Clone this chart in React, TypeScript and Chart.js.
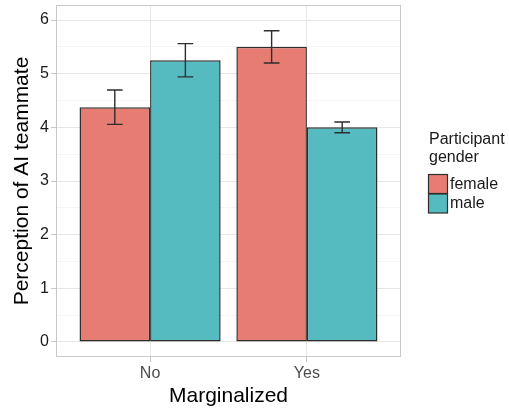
import React, { useEffect, useRef } from "react";
import { Chart, registerables } from "chart.js";

Chart.register(...registerables);

// Groups on the x axis and the two participant series
const categories = ["No", "Yes"];
const seriesNames = ["female", "male"];
const femaleMeans = [4.375, 5.5];
const femaleErrors = [0.32, 0.3];
const maleMeans = [5.25, 4.0];
const maleErrors = [0.31, 0.1];

// Axis ticks
const yMajorTicks = [0, 1, 2, 3, 4, 5, 6];
const yMinorTicks = [0.5, 1.5, 2.5, 3.5, 4.5, 5.5];

const FONT = "'Liberation Sans', Arial, Helvetica, sans-serif";
const FEMALE_FILL = "#E77C72";
const MALE_FILL = "#56BBC1";
const OUTLINE = "#2e2e2e";
const GRID_MAJOR = "#e6e6e6";
const GRID_MINOR = "#f3f3f3";
const PANEL_BORDER = "#c9c9c9";

const seriesMeans = [femaleMeans, maleMeans];
const seriesErrors = [femaleErrors, maleErrors];
const seriesFills = [FEMALE_FILL, MALE_FILL];

// Outline around the plotting panel
const panelBorder = {
  id: "panelBorder",
  afterDatasetsDraw(chart: any) {
    const { ctx, chartArea } = chart;
    ctx.save();
    ctx.strokeStyle = PANEL_BORDER;
    ctx.lineWidth = 1;
    ctx.strokeRect(
      chartArea.left + 0.5,
      chartArea.top + 0.5,
      chartArea.right - chartArea.left - 1,
      chartArea.bottom - chartArea.top - 1
    );
    ctx.restore();
  },
};

// Mean ± error whiskers on top of each bar
const errorBars = {
  id: "errorBars",
  afterDatasetsDraw(chart: any) {
    const { ctx, scales } = chart;
    const xs = scales.x;
    const ys = scales.y;
    const capHalf = Math.abs(xs.getPixelForValue(0.05) - xs.getPixelForValue(0));
    ctx.save();
    ctx.strokeStyle = OUTLINE;
    ctx.lineWidth = 1.4;
    chart.data.datasets.forEach((ds: any, di: number) => {
      const meta = chart.getDatasetMeta(di);
      meta.data.forEach((bar: any, i: number) => {
        const m = seriesMeans[di][i];
        const e = seriesErrors[di][i];
        const x = bar.x;
        const yHi = ys.getPixelForValue(m + e);
        const yLo = ys.getPixelForValue(m - e);
        ctx.beginPath();
        ctx.moveTo(x, yHi);
        ctx.lineTo(x, yLo);
        ctx.moveTo(x - capHalf, yHi);
        ctx.lineTo(x + capHalf, yHi);
        ctx.moveTo(x - capHalf, yLo);
        ctx.lineTo(x + capHalf, yLo);
        ctx.stroke();
      });
    });
    ctx.restore();
  },
};

// Legend to the right of the panel
const sideLegend = {
  id: "sideLegend",
  afterDraw(chart: any) {
    const { ctx, chartArea } = chart;
    const x0 = chartArea.right + 27;
    ctx.save();
    ctx.fillStyle = "#1a1a1a";
    ctx.font = `16px ${FONT}`;
    ctx.textAlign = "left";
    ctx.textBaseline = "alphabetic";
    ctx.fillText("Participant", x0 + 1, 144);
    ctx.fillText("gender", x0 + 1, 162);
    const box = 19;
    const top = 174.5;
    seriesNames.forEach((name, i) => {
      const y = top + i * (box + 0.5);
      ctx.fillStyle = seriesFills[i];
      ctx.fillRect(x0 + 0.5, y, box, box);
      ctx.strokeStyle = OUTLINE;
      ctx.lineWidth = 1.2;
      ctx.strokeRect(x0 + 0.5, y, box, box);
      ctx.fillStyle = "#1a1a1a";
      ctx.textBaseline = "middle";
      ctx.fillText(name, x0 + box + 3, y + box / 2 + 0.5);
    });
    ctx.restore();
  },
};

const isMajor = (v: number) => Math.abs(v - Math.round(v)) < 1e-6;

export default function App() {
  const canvasRef = useRef<HTMLCanvasElement | null>(null);

  useEffect(() => {
    const canvas = canvasRef.current;
    if (!canvas) return;
    const chart = new Chart(canvas, {
      type: "bar",
      data: {
        datasets: seriesNames.map((name, di) => ({
          label: name,
          data: seriesMeans[di].map((m, i) => ({ x: i + 1, y: m })),
          backgroundColor: seriesFills[di],
          borderColor: OUTLINE,
          borderWidth: 1.5,
          borderSkipped: false,
          categoryPercentage: 0.9,
          barPercentage: 1,
        })),
      },
      options: {
        animation: false,
        responsive: false,
        events: [],
        layout: { padding: { left: 0, top: 5, right: 108, bottom: 0 } },
        plugins: {
          legend: { display: false },
          tooltip: { enabled: false },
        },
        scales: {
          x: {
            type: "linear",
            min: 0.4,
            max: 2.6,
            offset: false,
            afterBuildTicks: (s: any) => {
              s.ticks = categories.map((_, i) => ({ value: i + 1 }));
            },
            afterFit: (s: any) => {
              s.height = 53;
              s.paddingLeft = 0;
              s.paddingRight = 0;
            },
            ticks: {
              callback: (_v: any, i: number) => categories[i],
              color: "#4d4d4d",
              font: { family: FONT, size: 16 },
              padding: 2,
              maxRotation: 0,
              autoSkip: false,
            },
            grid: {
              offset: false,
              color: GRID_MAJOR,
              tickColor: PANEL_BORDER,
              tickLength: 5,
              lineWidth: 1,
            },
            border: { display: false },
            title: {
              display: true,
              text: "Marginalized",
              color: "#000000",
              font: { family: FONT, size: 21 },
              padding: { top: 0, bottom: 1.5 },
            },
          },
          y: {
            type: "linear",
            min: -0.28,
            max: 6.28,
            afterBuildTicks: (s: any) => {
              s.ticks = [...yMajorTicks, ...yMinorTicks]
                .sort((a, b) => a - b)
                .map((v) => ({ value: v }));
            },
            afterFit: (s: any) => {
              s.width = 56;
              s.paddingTop = 0;
              s.paddingBottom = 0;
            },
            ticks: {
              callback: (v: any) => (isMajor(Number(v)) ? String(v) : ""),
              color: "#1a1a1a",
              font: { family: FONT, size: 16 },
              padding: 2,
              autoSkip: false,
            },
            grid: {
              color: (c: any) => (c.tick && isMajor(c.tick.value) ? GRID_MAJOR : GRID_MINOR),
              lineWidth: (c: any) => (c.tick && isMajor(c.tick.value) ? 1 : 0.8),
              tickColor: (c: any) =>
                c.tick && isMajor(c.tick.value) ? PANEL_BORDER : "rgba(0,0,0,0)",
              tickLength: 5,
            },
            border: { display: false },
            title: {
              display: true,
              text: "Perception of AI teammate",
              color: "#000000",
              font: { family: FONT, size: 21 },
              padding: { top: 9.5, bottom: 0 },
            },
          },
        },
      },
      plugins: [panelBorder, errorBars, sideLegend],
    } as any);
    return () => chart.destroy();
  }, []);

  return (
    <div style={{ position: "fixed", left: 0, top: 0, width: 509, height: 410, background: "#ffffff" }}>
      <canvas ref={canvasRef} width={509} height={410} />
    </div>
  );
}
